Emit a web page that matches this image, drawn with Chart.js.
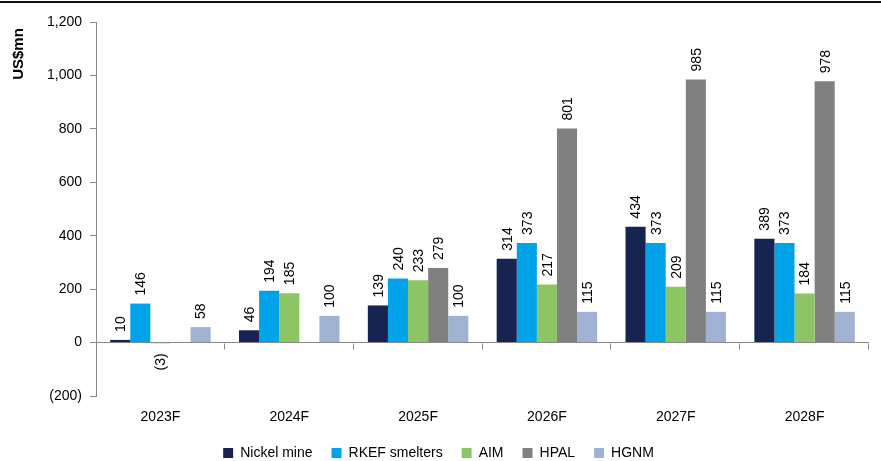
<!DOCTYPE html>
<html>
<head>
<meta charset="utf-8">
<script src="https://cdn.jsdelivr.net/npm/chart.js@4.4.0/dist/chart.umd.min.js"></script>
<style>
  html, body { margin: 0; padding: 0; background: #fff; }
  #wrap { position: relative; width: 881px; height: 461px; }
  #rule { position: absolute; left: 0; top: 1px; width: 881px; height: 2px; background: #111; }
</style>
</head>
<body>
<div id="wrap">
  <div id="rule"></div>
  <canvas id="capexChart" width="881" height="461"></canvas>
</div>
<script>
// Categorias y series (US$mn)
const anios = ['2023F', '2024F', '2025F', '2026F', '2027F', '2028F'];
const nickelMine = [10, 46, 139, 314, 434, 389];
const rkefSmelters = [146, 194, 240, 373, 373, 373];
const aim = [-3, 185, 233, 217, 209, 184];
const hpal = [null, null, 279, 801, 985, 978];
const hgnm = [58, 100, 100, 115, 115, 115];

// Eje Y
const yMin = -200;
const yMax = 1200;
const yPaso = 200;
const tituloY = 'US$mn';

const fuente = 'Liberation Sans, Arial, sans-serif';

// Formato: miles con coma, negativos entre parentesis
function formatoNumero(v) {
    const s = Math.abs(v).toLocaleString('en-US');
    return v < 0 ? '(' + s + ')' : s;
}

// Etiquetas de valor giradas sobre cada barra
const etiquetasBarras = {
    id: 'etiquetasBarras',
    afterDatasetsDraw(chart) {
        const ctx = chart.ctx;
        ctx.save();
        ctx.font = '14px ' + fuente;
        ctx.fillStyle = '#000';
        ctx.textBaseline = 'middle';
        chart.data.datasets.forEach((ds, i) => {
            const meta = chart.getDatasetMeta(i);
            meta.data.forEach((barra, j) => {
                const v = ds.data[j];
                if (v === null || v === undefined) return;
                ctx.save();
                if (v >= 0) {
                    ctx.translate(barra.x, barra.y - 8);
                    ctx.rotate(-Math.PI / 2);
                    ctx.textAlign = 'left';
                } else {
                    ctx.translate(barra.x, barra.y + 10);
                    ctx.rotate(-Math.PI / 2);
                    ctx.textAlign = 'right';
                }
                ctx.fillText(formatoNumero(v), 0, 1);
                ctx.restore();
            });
        });
        ctx.restore();
    }
};

// Marcas de categoria sobre la linea de cero y titulo del eje Y
const marcasCero = {
    id: 'marcasCero',
    afterDatasetsDraw(chart) {
        const ctx = chart.ctx;
        const x = chart.scales.x;
        const y = chart.scales.y;
        const y0 = Math.round(y.getPixelForValue(0)) + 0.5;
        const paso = (x.right - x.left) / anios.length;
        ctx.save();
        ctx.strokeStyle = '#888';
        ctx.lineWidth = 1;
        ctx.beginPath();
        for (let k = 1; k <= anios.length; k++) {
            const px = Math.round(x.left + k * paso) - 0.5;
            ctx.moveTo(px, y0);
            ctx.lineTo(px, y0 + 6);
        }
        ctx.stroke();

        // titulo arriba a la izquierda, girado
        ctx.translate(19, y.top + 32);
        ctx.rotate(-Math.PI / 2);
        ctx.font = 'bold 15px ' + fuente;
        ctx.fillStyle = '#000';
        ctx.textAlign = 'center';
        ctx.textBaseline = 'middle';
        ctx.fillText(tituloY, 0, 0);
        ctx.restore();
    }
};

const ctx = document.getElementById('capexChart').getContext('2d');
new Chart(ctx, {
    type: 'bar',
    data: {
        labels: anios,
        datasets: [
            { label: 'Nickel mine', data: nickelMine, backgroundColor: '#172451' },
            { label: 'RKEF smelters', data: rkefSmelters, backgroundColor: '#00a2e8' },
            { label: 'AIM', data: aim, backgroundColor: '#8cc563' },
            { label: 'HPAL', data: hpal, backgroundColor: '#808080' },
            { label: 'HGNM', data: hgnm, backgroundColor: '#9fb2d2' }
        ]
    },
    options: {
        responsive: false,
        animation: false,
        devicePixelRatio: 1,
        layout: { padding: { top: 22, right: 12, left: 8, bottom: 0 } },
        datasets: { bar: { categoryPercentage: 0.78, barPercentage: 1.0 } },
        plugins: {
            legend: {
                position: 'bottom',
                maxHeight: 34,
                labels: {
                    boxWidth: 10,
                    boxHeight: 10,
                    padding: 19,
                    color: '#000',
                    font: { family: fuente, size: 14 }
                }
            },
            tooltip: { enabled: false }
        },
        scales: {
            x: {
                grid: { display: false },
                border: { display: false },
                ticks: { color: '#000', font: { family: fuente, size: 14 }, padding: 5 },
                afterFit(scale) { scale.height = 31; }
            },
            y: {
                min: yMin,
                max: yMax,
                ticks: {
                    stepSize: yPaso,
                    color: '#000',
                    font: { family: fuente, size: 14 },
                    padding: 8,
                    callback: v => formatoNumero(v)
                },
                grid: {
                    color: c => (c.tick && c.tick.value === 0 ? '#888' : 'rgba(0,0,0,0)'),
                    tickColor: '#888',
                    tickLength: 6
                },
                border: { display: true, color: '#888' },
                afterFit(scale) { scale.width = 88; }
            }
        }
    },
    plugins: [etiquetasBarras, marcasCero]
});
</script>
</body>
</html>
